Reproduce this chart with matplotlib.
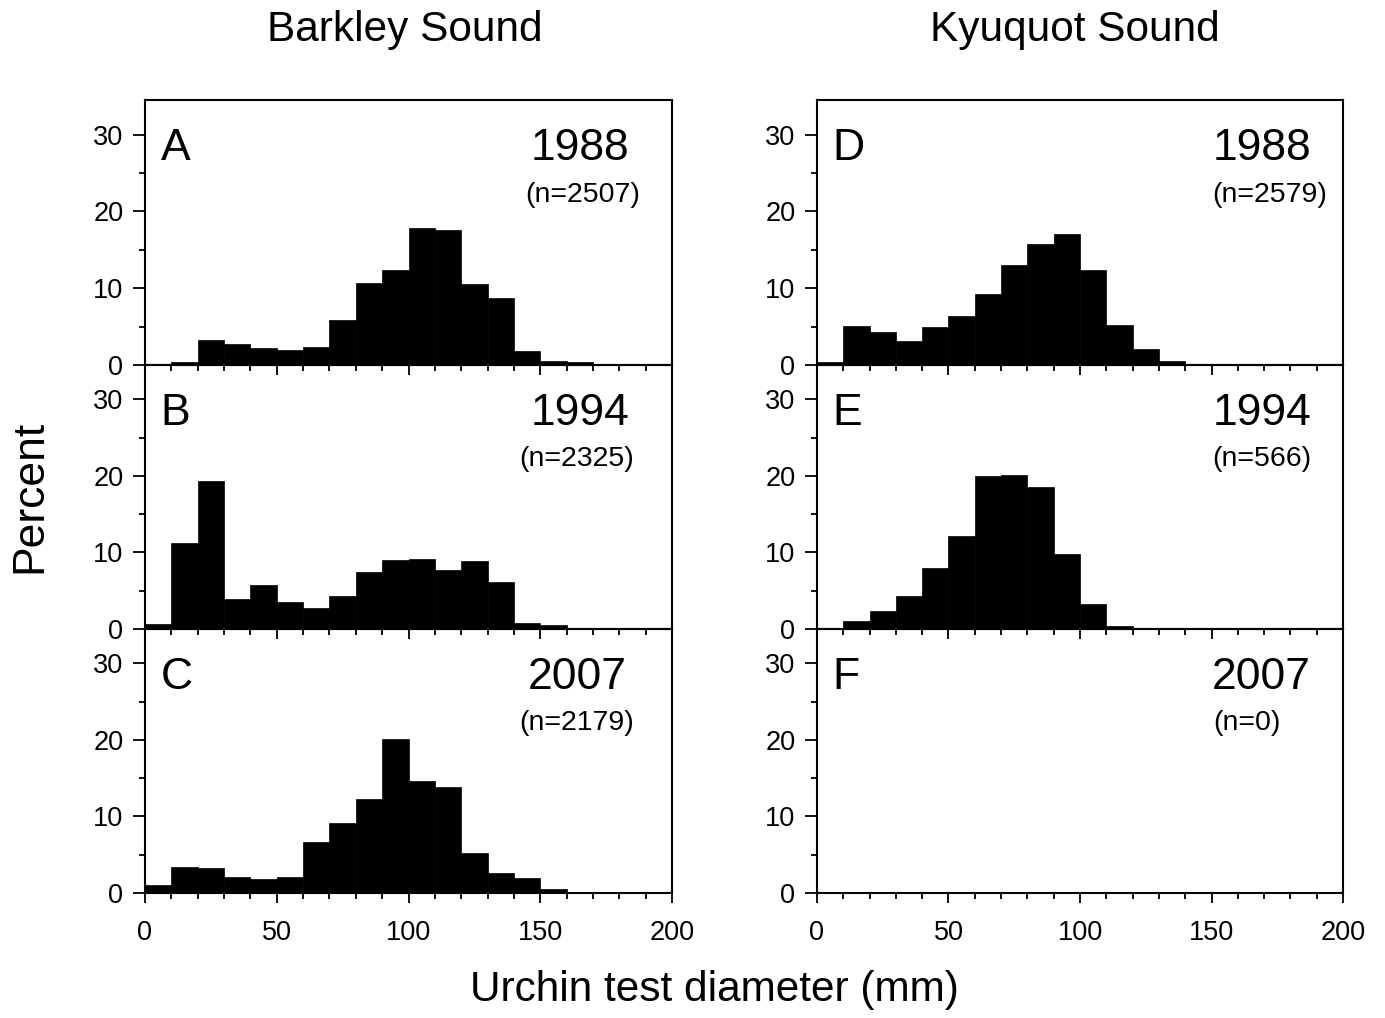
import matplotlib
matplotlib.use("Agg")
import matplotlib.pyplot as plt
import numpy as np
from matplotlib.ticker import MultipleLocator

plt.rcParams['font.family'] = ['Liberation Sans', 'DejaVu Sans']

bin_edges = list(range(0, 210, 10))

barkley_1988 = [0.1, 0.35, 3.3, 2.75, 2.2, 2.0, 2.3, 5.8, 10.65, 12.4,
                17.9, 17.55, 10.5, 8.7, 1.85, 0.5, 0.35, 0.17, 0.1, 0.0]
barkley_1994 = [0.65, 11.2, 19.3, 3.95, 5.7, 3.5, 2.8, 4.3, 7.4, 9.0,
                9.15, 7.7, 8.85, 6.1, 0.8, 0.5, 0.0, 0.0, 0.0, 0.0]
barkley_2007 = [1.1, 3.45, 3.25, 2.15, 1.8, 2.1, 6.6, 9.2, 12.3, 20.1,
                14.6, 13.9, 5.2, 2.65, 2.0, 0.55, 0.0, 0.0, 0.0, 0.0]
kyuquot_1988 = [0.35, 5.1, 4.35, 3.15, 5.0, 6.4, 9.2, 13.0, 15.7, 17.1,
                12.35, 5.2, 2.1, 0.57, 0.1, 0.0, 0.0, 0.0, 0.0, 0.0]
kyuquot_1994 = [0.17, 1.1, 2.4, 4.3, 8.0, 12.2, 20.0, 20.1, 18.6, 9.75,
                3.25, 0.4, 0.17, 0.0, 0.0, 0.0, 0.0, 0.0, 0.0, 0.0]
kyuquot_2007 = []

panel_letters = ['A', 'B', 'C', 'D', 'E', 'F']
panel_years = ['1988', '1994', '2007', '1988', '1994', '2007']
panel_n = ['(n=2507)', '(n=2325)', '(n=2179)', '(n=2579)', '(n=566)', '(n=0)']
column_titles = ['Barkley Sound', 'Kyuquot Sound']
x_label = 'Urchin test diameter (mm)'
y_label = 'Percent'

series = [barkley_1988, barkley_1994, barkley_2007,
          kyuquot_1988, kyuquot_1994, kyuquot_2007]

fig = plt.figure(figsize=(13.85, 10.18), dpi=100, facecolor='white')

W, H = 1385.0, 1018.0
col_x = [(145, 672), (817, 1343)]
row_y = [(100, 365), (365, 629), (629, 893)]

# text positions (axes fraction), per panel
year_x = [0.731, 0.731, 0.726, 0.753, 0.753, 0.750]
n_x = [0.721, 0.711, 0.711, 0.752, 0.752, 0.753]

axes = []
for c in range(2):
    for r in range(3):
        x0, x1 = col_x[c]
        y0, y1 = row_y[r]
        ax = fig.add_axes([x0 / W, 1 - y1 / H, (x1 - x0) / W, (y1 - y0) / H])
        ax.patch.set_alpha(0)
        axes.append(ax)

for i, ax in enumerate(axes):
    vals = series[i]
    if len(vals):
        edges = np.array(bin_edges)
        ax.bar(edges[:-1], vals, width=10, align='edge', color='black',
               edgecolor='black', linewidth=0.5)
    ax.set_xlim(0, 200)
    ax.set_ylim(0, 34.5)
    ax.xaxis.set_major_locator(MultipleLocator(50))
    ax.xaxis.set_minor_locator(MultipleLocator(10))
    ax.yaxis.set_major_locator(MultipleLocator(10))
    ax.yaxis.set_minor_locator(MultipleLocator(5))
    ax.tick_params(axis='x', which='major', direction='out', length=7.5,
                   width=1.3, labelsize=19.5, pad=12)
    ax.tick_params(axis='y', which='major', direction='out', length=8.5,
                   width=1.3, labelsize=19.5, pad=7)
    ax.tick_params(which='minor', direction='out', length=4, width=1.3)
    for s in ax.spines.values():
        s.set_linewidth(1.5)
    r = i % 3
    if r != 2:
        ax.tick_params(axis='x', which='both', labelbottom=False)
    ax.text(0.03, 0.772, panel_letters[i], transform=ax.transAxes,
            fontsize=32, ha='left', va='baseline')
    ax.text(year_x[i], 0.772, panel_years[i], transform=ax.transAxes,
            fontsize=32, ha='left', va='baseline')
    ax.text(n_x[i], 0.616, panel_n[i], transform=ax.transAxes,
            fontsize=20.5, ha='left', va='baseline')

fig.text(405 / W, 1 - 30 / H, column_titles[0], fontsize=30.5, ha='center', va='center')
fig.text(1075 / W, 1 - 30 / H, column_titles[1], fontsize=30.5, ha='center', va='center')
fig.text(714 / W, 1 - 990 / H, x_label, fontsize=30.5, ha='center', va='center')
fig.text(30 / W, 1 - 496 / H, y_label, fontsize=32, ha='center', va='center',
         rotation=90)

fig.savefig('out.png', dpi=100, facecolor='white')
